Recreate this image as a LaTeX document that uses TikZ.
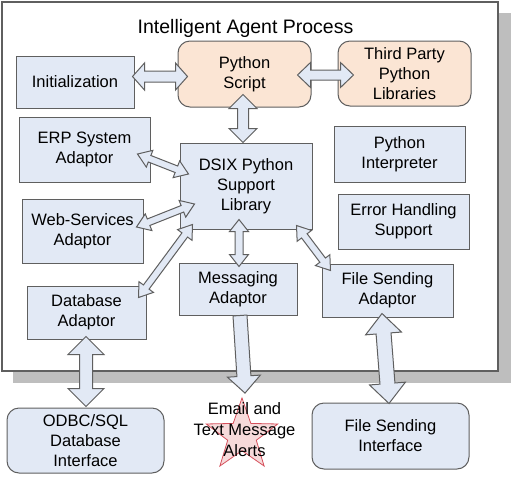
\documentclass[tikz,border=0pt]{standalone}
\usepackage{fontspec}
\setmainfont{Liberation Sans}
\usetikzlibrary{calc,shapes.geometric}
\definecolor{boxfill}{RGB}{226,233,245}
\definecolor{peach}{RGB}{251,229,212}
\definecolor{edge}{RGB}{95,95,95}
\definecolor{shadowgray}{RGB}{190,190,190}
\definecolor{starfill}{RGB}{246,218,218}
\definecolor{staredge}{RGB}{214,80,92}
% double block arrow: #1 a, #2 b, #3 half shaft, #4 half head, #5 head length
\newcommand\dblarrow[5]{%
\draw[barrow] (#1)
 -- ($($(#1)!#5!(#2)$)!#4!90:(#2)$)
 -- ($($(#1)!#5!(#2)$)!#3!90:(#2)$)
 -- ($($(#2)!#5!(#1)$)!#3!90:(#2)$)
 -- ($($(#2)!#5!(#1)$)!#4!90:(#2)$)
 -- (#2)
 -- ($($(#2)!#5!(#1)$)!#4!-90:(#2)$)
 -- ($($(#2)!#5!(#1)$)!#3!-90:(#2)$)
 -- ($($(#1)!#5!(#2)$)!#3!-90:(#2)$)
 -- ($($(#1)!#5!(#2)$)!#4!-90:(#2)$)
 -- cycle;}
\newcommand\sglarrow[5]{%
\draw[barrow] ($(#1)!#3!90:(#2)$)
 -- ($($(#2)!#5!(#1)$)!#3!90:(#2)$)
 -- ($($(#2)!#5!(#1)$)!#4!90:(#2)$)
 -- (#2)
 -- ($($(#2)!#5!(#1)$)!#4!-90:(#2)$)
 -- ($($(#2)!#5!(#1)$)!#3!-90:(#2)$)
 -- ($(#1)!#3!-90:(#2)$)
 -- cycle;}
\begin{document}
\begin{tikzpicture}[x=1pt,y=-1pt,
  bbox/.style={draw=edge, fill=boxfill, line width=1pt, align=center, inner sep=0pt,
    font=\fontsize{16.5}{20}\selectfont},
  rbox/.style={bbox, rounded corners=12pt},
  pbox/.style={rbox, fill=peach},
  barrow/.style={draw=edge, fill=boxfill, line width=1pt, line join=miter}]
\useasboundingbox (0,0) rectangle (512,480);
% frame with shadow
\fill[shadowgray] (13,13) rectangle (511,383);
\draw[edge, fill=white, line width=1.2pt] (2,2) rectangle (498,371);
\node[font=\fontsize{19.5}{22}\selectfont, anchor=base, inner sep=0pt] (title) at (245.5,33) {Intelligent Agent Process};
% boxes
\node[bbox, minimum width=118, minimum height=52] (init) at (75,82) {Initialization};
\node[pbox, minimum width=133, minimum height=66] (py) at (244.5,74) {Python\\Script};
\node[pbox, minimum width=133, minimum height=65] (third) at (404.5,73.5) {Third Party\\Python\\Libraries};
\node[bbox, minimum width=131, minimum height=65] (erp) at (84.5,149.5) {ERP System\\Adaptor};
\node[bbox, minimum width=132, minimum height=86] (dsix) at (246,186) {DSIX Python\\Support\\Library};
\node[bbox, minimum width=121, minimum height=64] (web) at (82.5,231) {Web-Services\\Adaptor};
\node[bbox, minimum width=131, minimum height=56] (interp) at (399.5,154) {Python\\Interpreter};
\node[bbox, minimum width=131, minimum height=55] (err) at (403.5,221.5) {Error Handling\\Support};
\node[bbox, minimum width=118, minimum height=52] (msg) at (238,289) {Messaging\\Adaptor};
\node[bbox, minimum width=131, minimum height=53] (fsa) at (387.5,290.5) {File Sending\\Adaptor};
\node[bbox, minimum width=119, minimum height=53] (db) at (86.5,312.5) {Database\\Adaptor};
\node[rbox, minimum width=157, minimum height=65] (odbc) at (85.5,440.5) {ODBC/SQL\\Database\\Interface};
\node[rbox, minimum width=157, minimum height=66] (fsi) at (390.5,436) {File Sending\\Interface};
% star with alert text
\node[star, star points=5, star point ratio=2.5, minimum size=75.2pt, inner sep=0pt,
  draw=staredge, fill=starfill, line width=0.8pt] (star) at (242,435.6) {};
\node[align=center, inner sep=0pt, font=\fontsize{16.5}{21}\selectfont] (alert) at (244.5,430) {Email and\\Text Message\\Alerts};
% arrow end points
\coordinate (a1) at ([shift={(-2,-5.5)}]init.east);
\coordinate (b1) at ([shift={(10,2.5)}]py.west);
\coordinate (a2) at ([shift={(-14,1)}]py.east);
\coordinate (b2) at ([shift={(16,1.5)}]third.west);
\coordinate (a3) at ([shift={(-1.5,-13)}]py.south);
\coordinate (b3) at ([shift={(-3,0)}]dsix.north);
\coordinate (a4) at ([shift={(-13,4.5)}]erp.east);
\coordinate (b4) at ([shift={(9,-12)}]dsix.west);
\coordinate (a5) at ([shift={(-7,-4)}]web.east);
\coordinate (b5) at ([shift={(15,18)}]dsix.west);
\coordinate (a6) at ([shift={(-8,12)}]db.north east);
\coordinate (b6) at ([shift={(13,-5)}]dsix.south west);
\coordinate (a7) at ([shift={(-7,-10)}]dsix.south);
\coordinate (b7) at ([shift={(1,4)}]msg.north);
\coordinate (a8) at ([shift={(-16,-4)}]dsix.south east);
\coordinate (b8) at ([shift={(9,7)}]fsa.north west);
\coordinate (a9) at ([shift={(2,0)}]msg.south);
\coordinate (b9) at ([shift={(3,-42.5)}]star.center);
\coordinate (a10) at ([shift={(-0.5,-3)}]db.south);
\coordinate (b10) at ([shift={(0.5,-1)}]odbc.north);
\coordinate (a11) at ([shift={(-5.5,-4)}]fsa.south);
\coordinate (b11) at ([shift={(-1.5,1)}]fsi.north);
% arrows
\dblarrow{a1}{b1}{5.5pt}{13.5pt}{12pt}
\dblarrow{a2}{b2}{5pt}{12.5pt}{13pt}
\dblarrow{a3}{b3}{5.5pt}{14pt}{14pt}
\dblarrow{a4}{b4}{3.5pt}{9pt}{13pt}
\dblarrow{a5}{b5}{3.5pt}{9pt}{13pt}
\dblarrow{a6}{b6}{3.5pt}{9pt}{13pt}
\dblarrow{a7}{b7}{4pt}{9.5pt}{12pt}
\dblarrow{a8}{b8}{3.5pt}{9pt}{13pt}
\sglarrow{a9}{b9}{7pt}{16.5pt}{17pt}
\dblarrow{a10}{b10}{6.5pt}{18pt}{18pt}
\dblarrow{a11}{b11}{7.5pt}{18pt}{20pt}
\end{tikzpicture}
\end{document}
